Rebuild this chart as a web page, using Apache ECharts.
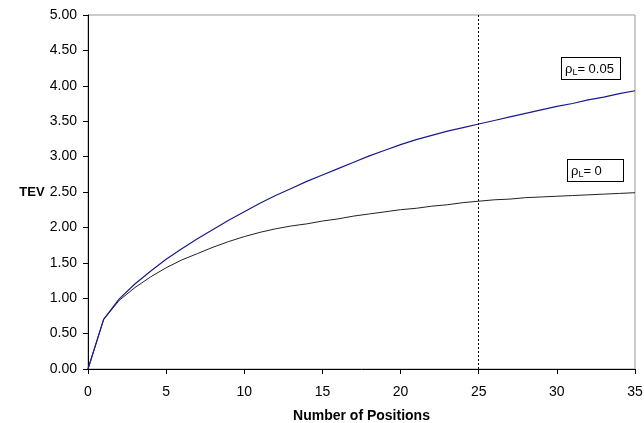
<!DOCTYPE html>
<html>
<head>
<meta charset="utf-8">
<script src="https://cdn.jsdelivr.net/npm/echarts@6/dist/echarts.min.js"></script>
<style>html,body{margin:0;padding:0;background:#fff}#c{width:644px;height:423px}</style>
</head>
<body>
<div id="c"></div>
<script>
var positions = [0,1,2,3,4,5,6,7,8,9,10,11,12,13,14,15,16,17,18,19,20,21,22,23,24,25,26,27,28,29,30,31,32,33,34,35];
var tevRho0 = [0,0.70,0.97,1.15,1.30,1.43,1.54,1.63,1.72,1.80,1.87,1.93,1.98,2.02,2.05,2.09,2.12,2.16,2.19,2.22,2.25,2.27,2.30,2.32,2.35,2.37,2.39,2.40,2.42,2.43,2.44,2.45,2.46,2.47,2.48,2.49];
var tevRho005 = [0,0.70,0.99,1.20,1.38,1.55,1.70,1.84,1.97,2.10,2.22,2.34,2.45,2.55,2.65,2.74,2.83,2.92,3.01,3.09,3.17,3.24,3.30,3.36,3.41,3.46,3.51,3.56,3.61,3.66,3.71,3.75,3.80,3.84,3.89,3.93];
var markerX = 25;
var labelRho005 = ['ρ','L','= 0.05'];
var labelRho0 = ['ρ','L','= 0'];

function pairs(xs, ys){ return xs.map(function(x,i){ return [x, ys[i]]; }); }
var F = 'Liberation Sans, Arial, sans-serif';
function boxText(parts, left, top, w){
  return {
    type:'text', left:left, top:top, z:10,
    style:{
      rich:{
        a:{fontSize:13, fontFamily:F, fill:'#000'},
        s:{fontSize:9, fontFamily:F, fill:'#000', padding:[7,0,0,0]}
      },
      text:'{a|'+parts[0]+'}{s|'+parts[1]+'}{a|'+parts[2]+'}',
      backgroundColor:'#fff', borderColor:'#000', borderWidth:1,
      padding:[3,3,2,3], width:w
    }
  };
}
var chart = echarts.init(document.getElementById('c'));
chart.setOption({
  animation:false,
  grid:{left:88, right:9, top:15, bottom:54, containLabel:false, outerBoundsMode:'none',
    show:true, borderColor:'#999', borderWidth:1, backgroundColor:'#fff'},
  xAxis:{type:'value', min:0, max:35, interval:5,
    name:'Number of Positions', nameLocation:'middle', nameGap:40, nameMoveOverlap:false,
    nameTextStyle:{fontFamily:F, fontWeight:'bold', fontSize:14, color:'#000'},
    axisLine:{lineStyle:{color:'#000', width:1}},
    axisTick:{length:5, lineStyle:{color:'#000'}},
    axisLabel:{fontFamily:F, fontSize:14, color:'#000', margin:16},
    splitLine:{show:false}},
  yAxis:{type:'value', min:0, max:5, interval:0.5,
    name:'TEV', nameLocation:'middle', nameGap:56, nameRotate:0, nameMoveOverlap:false,
    nameTextStyle:{fontFamily:F, fontWeight:'bold', fontSize:13, color:'#000', align:'center'},
    axisLine:{show:true, lineStyle:{color:'#000', width:1}},
    axisTick:{show:true, length:5, lineStyle:{color:'#000'}},
    axisLabel:{fontFamily:F, fontSize:14, color:'#000', margin:11, formatter:function(v){return v.toFixed(2);}},
    splitLine:{show:false}},
  series:[
    {type:'line', data:pairs(positions, tevRho0), showSymbol:false, lineStyle:{color:'#222', width:1}, z:2,
     markLine:{silent:true, symbol:'none', label:{show:false}, lineStyle:{color:'#000', type:[2,2], width:1},
       data:[{xAxis:markerX}]}},
    {type:'line', data:pairs(positions, tevRho005), showSymbol:false, lineStyle:{color:'#1a1a8c', width:1.2}, z:3}
  ],
  graphic:[
    boxText(labelRho005, 561, 57, 52),
    boxText(labelRho0, 567, 159, 49)
  ]
});
</script>
</body>
</html>
